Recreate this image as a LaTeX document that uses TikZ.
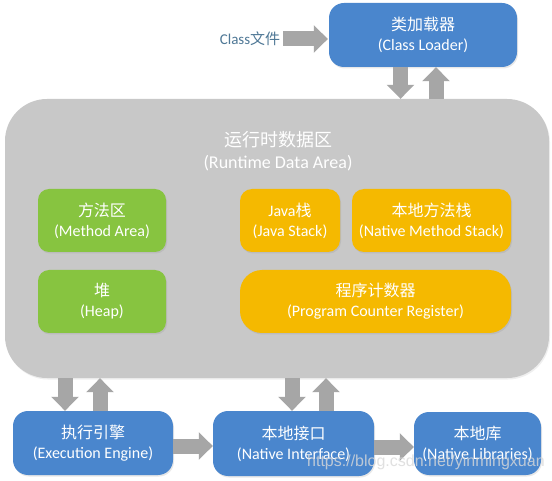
\documentclass[tikz,border=0pt]{standalone}
\usepackage{fontspec}
\setmainfont{Carlito}
\newfontfamily\cjk{Noto Sans CJK SC}
\newfontfamily\wmfont{Liberation Sans}
\usetikzlibrary{arrows.meta,shadows,calc}
\definecolor{boxblue}{HTML}{4A86CD}
\definecolor{boxgreen}{HTML}{87C440}
\definecolor{boxorange}{HTML}{F5B900}
\definecolor{areagray}{HTML}{C8C8C8}
\definecolor{arrowgray}{HTML}{A6A6A6}
\definecolor{labelblue}{HTML}{4F7896}
\tikzset{
  basebox/.style={text=white, align=center, inner sep=0pt,
    font=\fontsize{16}{20}\selectfont,
    drop shadow={opacity=0.18, shadow xshift=1pt, shadow yshift=-1.5pt}},
  bluebox/.style={basebox, fill=boxblue, rounded corners=15pt},
  greenbox/.style={basebox, fill=boxgreen, rounded corners=11pt},
  orangebox/.style={basebox, fill=boxorange, rounded corners=12pt},
  areabox/.style={fill=areagray, rounded corners=42pt, inner sep=0pt,
    drop shadow={opacity=0.12, shadow xshift=1pt, shadow yshift=-1.5pt}},
  blockarrow/.style={draw=arrowgray, line width=15pt,
    -{Triangle[width=27pt,length=14pt,fill=arrowgray]}},
}
\begin{document}
\begin{tikzpicture}[x=1pt,y=-1pt]
\useasboundingbox[fill=white] (0,0) rectangle (552,481);

% runtime data area
\node[areabox, minimum width=544pt, minimum height=279pt] (area) at (277,238.5) {};
\node[text=white, align=center, inner sep=0pt, font=\fontsize{18}{22}\selectfont] (title) at (278,151)
  {{\cjk 运行时数据区}\\(Runtime Data Area)};

% class loader
\node[bluebox, minimum width=188pt, minimum height=64pt] (loader) at (423,35)
  {{\cjk 类加载器}\\(Class Loader)};
\node[text=labelblue, inner sep=0pt, font=\fontsize{15}{18}\selectfont] (clsfile) at (250,39)
  {Class{\cjk 文件}};

% inner areas
\node[greenbox, minimum width=128pt, minimum height=63pt] (method) at (102,220.5)
  {{\cjk 方法区}\\(Method Area)};
\node[greenbox, minimum width=128pt, minimum height=63pt] (heap) at (102,301.5)
  {{\cjk 堆}\\(Heap)};
\node[orangebox, minimum width=100pt, minimum height=63pt] (jstack) at (290,220.5)
  {Java{\cjk 栈}\\(Java Stack)};
\node[orangebox, minimum width=159pt, minimum height=63pt] (nstack) at (431.5,220.5)
  {{\cjk 本地方法栈}\\(Native Method Stack)};
\node[orangebox, rounded corners=22pt, minimum width=271pt, minimum height=63pt] (pc) at (375.5,301.5)
  {{\cjk 程序计数器}\\(Program Counter Register)};

% bottom row
\node[bluebox, minimum width=160pt, minimum height=64pt] (exec) at (93,443)
  {{\cjk 执行引擎}\\(Execution Engine)};
\node[bluebox, minimum width=161pt, minimum height=65pt] (ni) at (293.5,443.5)
  {{\cjk 本地接口}\\(Native Interface)};
\node[bluebox, minimum width=127pt, minimum height=63pt] (nl) at (477.5,443.5)
  {{\cjk 本地库}\\(Native Libraries)};

% connectors
\draw[blockarrow] ([xshift=3pt]clsfile.east) -- ([xshift=-1pt]clsfile.east -| loader.west);
\draw[blockarrow] ([xshift=-22.5pt]loader.south) -- ([xshift=-22.5pt]loader.south |- area.north);
\draw[blockarrow] ([xshift=13pt]loader.south |- area.north) -- ([xshift=13pt]loader.south);
\draw[blockarrow] ([xshift=-28pt]exec.north |- area.south) -- ([xshift=-28pt]exec.north);
\draw[blockarrow] ([xshift=7pt]exec.north) -- ([xshift=7pt]exec.north |- area.south);
\draw[blockarrow] ([xshift=-1.5pt]ni.north |- area.south) -- ([xshift=-1.5pt]ni.north);
\draw[blockarrow] ([xshift=32.5pt]ni.north) -- ([xshift=32.5pt]ni.north |- area.south);
\draw[blockarrow] ([yshift=-3pt]exec.east) -- ([yshift=-3pt]exec.east -| ni.west);
\draw[blockarrow] ([yshift=-3.5pt]ni.east) -- ([yshift=-3.5pt]ni.east -| nl.west);

% watermark
\node[anchor=base west, inner sep=0pt, text=white!70!gray, text opacity=0.8,
  font=\wmfont\fontsize{16}{18}\selectfont] (wm) at (307,466) {https://blog.csdn.net/yinmingxuan};
\end{tikzpicture}
\end{document}
